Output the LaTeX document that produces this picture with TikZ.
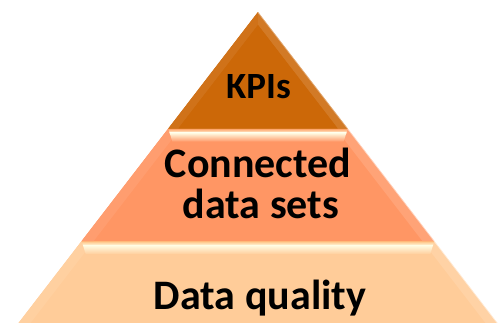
\documentclass[tikz,border=0pt]{standalone}
\usepackage{fontspec}
\setmainfont{Carlito}
\begin{document}
\begin{tikzpicture}[x=1pt,y=-1pt,
  declare function={xl(\t)=258-0.77*(\t-12); xr(\t)=258+0.77*(\t-12);},
  lbl/.style={font=\bfseries\fontsize{42}{41}\selectfont, text=black, inner sep=0pt, anchor=base},
  kpilbl/.style={lbl, font=\bfseries\fontsize{37}{37}\selectfont},
  edgelight/.style={white, opacity=0.55, line width=1.2pt}]
\definecolor{topc}{RGB}{204,104,8}
\definecolor{midc}{RGB}{255,150,100}
\definecolor{botc}{RGB}{255,204,153}
\definecolor{cream}{RGB}{255,251,226}
\useasboundingbox (0,0) rectangle (501,322);

% ---- bottom layer ----
\fill[botc] ({xl(241)},241) -- ({xr(241)},241) -- ({xr(335)},335) -- ({xl(335)},335) -- cycle;
\fill[botc!93!white] ({xl(241)},241) -- ({xl(241)+12},241) -- ({xl(335)+12},335) -- ({xl(335)},335) -- cycle;
\fill[botc!88!white] ({xr(241)},241) -- ({xr(241)-12},241) -- ({xr(335)-12},335) -- ({xr(335)},335) -- cycle;
\begin{scope}
  \clip ({xl(241)},241) -- ({xr(241)},241) -- ({xr(254)-14},254) -- ({xl(254)+14},254) -- cycle;
  \shade[top color=botc!75!orange, bottom color=cream] (0,240.5) rectangle (501,245.5);
  \shade[top color=cream, bottom color=botc] (0,245.4) rectangle (501,254.5);
\end{scope}
\draw[edgelight] ({xr(241)},241) -- ({xr(335)},335);

% ---- middle layer ----
\fill[midc] ({xl(128.5)},128.5) -- ({xr(128.5)},128.5) -- ({xr(241)},241) -- ({xl(241)},241) -- cycle;
\fill[midc!93!white] ({xl(128.5)},128.5) -- ({xl(128.5)+12},128.5) -- ({xl(241)+12},241) -- ({xl(241)},241) -- cycle;
\fill[midc!88!white] ({xr(128.5)},128.5) -- ({xr(128.5)-12},128.5) -- ({xr(241)-12},241) -- ({xr(241)},241) -- cycle;
\begin{scope}
  \clip ({xl(128.5)},128.5) -- ({xr(128.5)},128.5) -- ({xr(141.5)-14},141.5) -- ({xl(141.5)+14},141.5) -- cycle;
  \shade[top color=midc!80!orange, bottom color=cream] (0,128) rectangle (501,133);
  \shade[top color=cream, bottom color=midc] (0,132.9) rectangle (501,142);
\end{scope}
\draw[edgelight] ({xr(128.5)},128.5) -- ({xr(241)},241);

% ---- top layer ----
\fill[topc] (258,12) -- ({xr(128.5)},128.5) -- ({xl(128.5)},128.5) -- cycle;
\fill[topc!93!white] (258,12) -- ({xl(128.5)},128.5) -- ({xl(128.5)+10},128.5) -- (258,25) -- cycle;
\fill[topc!88!white] (258,12) -- ({xr(128.5)},128.5) -- ({xr(128.5)-10},128.5) -- (258,25) -- cycle;
\fill[topc] (258,25) -- ({xr(128.5)-10},128.5) -- ({xl(128.5)+10},128.5) -- cycle;
\draw[edgelight, opacity=0.4] (258,12) -- ({xr(128.5)},128.5);

% ---- labels ----
\node[kpilbl] (kpi) at (258.5,98) {KPIs};
\node[lbl] (conn) at (258,177) {Connected};
\node[lbl] (sets) at (261,218) {data sets};
\node[lbl] (qual) at (260,309) {Data quality};
\end{tikzpicture}
\end{document}
